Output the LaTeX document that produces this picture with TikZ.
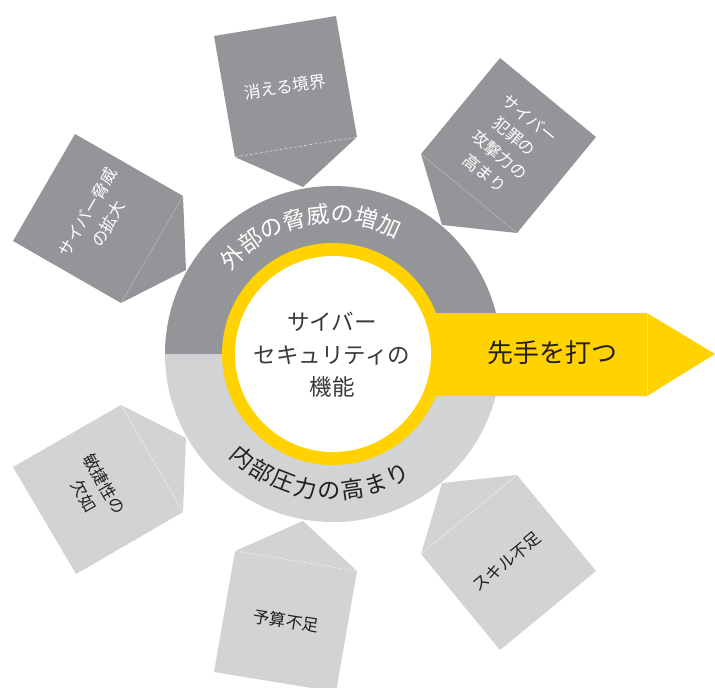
\documentclass[tikz,border=0pt]{standalone}
\usepackage{fontspec}
\setmainfont{Noto Sans CJK JP}
\definecolor{darkg}{HTML}{939598}
\definecolor{lightg}{HTML}{D1D3D4}
\definecolor{ylw}{HTML}{FFD200}
\definecolor{txt}{HTML}{231F20}
\definecolor{ctxt}{HTML}{3A3A3A}
\begin{document}
\begin{tikzpicture}[x=1pt,y=-1pt,
  darkbox/.style={fill=darkg},
  lightbox/.style={fill=lightg},
  foldsolid/.style={draw=#1,line width=0.4pt},
  folddash/.style={draw=#1,line width=0.5pt,dash pattern=on 3pt off 2pt},
  boxtext/.style={font=\fontsize{16.5}{23.5}\selectfont,align=center,inner sep=0pt},
  ringchar/.style={font=\fontsize{23}{23}\selectfont,inner sep=0pt,anchor=center},
  centertext/.style={font=\fontsize{22.5}{32.5}\selectfont,align=center,inner sep=0pt,text=ctxt},
]
\useasboundingbox (0,0) rectangle (715,688);
\coordinate (c) at (333,354);

% ---------- top boxes (dark) ----------
\coordinate (a1) at (75,134);  \coordinate (b1) at (183,196);
\coordinate (c1) at (121,303); \coordinate (d1) at (13,241);
\coordinate (t1) at (186,270);
\fill[darkbox] (a1) -- (b1) -- (t1) -- (c1) -- (d1) -- cycle;
\draw[foldsolid=darkg!60!white] (b1) -- (c1);
\node[boxtext,text=white,rotate=60] (l1) at (98,218) {サイバー脅威\\の拡大};

\coordinate (a2) at (214,36);  \coordinate (b2) at (336,16);
\coordinate (c2) at (357,137); \coordinate (d2) at (235,157);
\coordinate (t2) at (303,187);
\fill[darkbox] (a2) -- (b2) -- (c2) -- (t2) -- (d2) -- cycle;
\draw[folddash=white!75!darkg] (d2) -- (c2);
\node[boxtext,text=white,rotate=9] (l2) at (285,87) {消える境界};

\coordinate (a3) at (500,58);  \coordinate (b3) at (596,137);
\coordinate (c3) at (517,233); \coordinate (d3) at (421,154);
\coordinate (t3) at (442,225);
\fill[darkbox] (a3) -- (b3) -- (c3) -- (t3) -- (d3) -- cycle;
\draw[foldsolid=darkg!60!white] (d3) -- (c3);
\node[boxtext,text=white,rotate=-39.5] (l3) at (507,146) {サイバー\\犯罪の\\攻撃力の\\高まり};

% ---------- bottom boxes (light) ----------
\coordinate (a4) at (76,574);  \coordinate (b4) at (183,512);
\coordinate (c4) at (121,405); \coordinate (d4) at (13,467);
\coordinate (t4) at (186,438);
\fill[lightbox] (a4) -- (b4) -- (t4) -- (c4) -- (d4) -- cycle;
\draw[foldsolid=white!70!lightg] (b4) -- (c4);
\node[boxtext,text=txt,rotate=-60] (l4) at (94,490) {敏捷性の\\欠如};

\coordinate (a5) at (214,672);  \coordinate (b5) at (336,692);
\coordinate (c5) at (357,571); \coordinate (d5) at (235,551);
\coordinate (t5) at (303,521);
\fill[lightbox] (a5) -- (b5) -- (c5) -- (t5) -- (d5) -- cycle;
\draw[folddash=white!80!lightg] (d5) -- (c5);
\node[boxtext,text=txt,rotate=-9] (l5) at (286,621) {予算不足};

\coordinate (a6) at (500,650);  \coordinate (b6) at (596,571);
\coordinate (c6) at (517,475); \coordinate (d6) at (421,554);
\coordinate (t6) at (442,483);
\fill[lightbox] (a6) -- (b6) -- (c6) -- (t6) -- (d6) -- cycle;
\draw[foldsolid=white!70!lightg] (d6) -- (c6);
\node[boxtext,text=txt,rotate=39.5] (l6) at (507,562) {スキル不足};

% ---------- ring ----------
\begin{scope}
  \clip (160,180) rectangle (510,354);
  \fill[darkg] (c) circle[radius=168pt];
\end{scope}
\begin{scope}
  \clip (160,354) rectangle (510,530);
  \fill[lightg] (c) circle[radius=168pt];
\end{scope}

% ---------- arrow ----------
\coordinate (r1) at (333,313); \coordinate (r2) at (647,313);
\coordinate (tip) at (715,354);
\coordinate (r3) at (647,396); \coordinate (r4) at (333,396);
\fill[ylw] (r1) -- (r2) -- (tip) -- (r3) -- (r4) -- cycle;
\draw[draw=ylw!60!white,line width=0.4pt] (r2) -- (r3);

% ---------- core ----------
\fill[ylw] (c) circle[radius=111pt];
\fill[white] (c) circle[radius=98pt];
\node[centertext] (core) at (332,355) {サイバー\\セキュリティの\\機能};
\node[font=\fontsize{26}{26}\selectfont,text=txt,inner sep=0pt] (act) at (552,353) {先手を打つ};

% ---------- ring texts ----------
\foreach \ch [count=\i from 0] in {外,部,の,脅,威,の,増,加} {
  \pgfmathsetmacro\ang{136-10*\i}
  \pgfmathsetmacro\rot{\ang-90}
  \node[ringchar,text=white,rotate=\rot] (top\i) at ({333+140*cos(\ang)},{354-140*sin(\ang)}) {\ch};
}
\foreach \ch [count=\i from 0] in {内,部,圧,力,の,高,ま,り} {
  \pgfmathsetmacro\ang{229+9.85*\i}
  \pgfmathsetmacro\rot{\ang+90}
  \node[ringchar,text=txt,rotate=\rot] (bot\i) at ({333+137*cos(\ang)},{354-137*sin(\ang)}) {\ch};
}
\end{tikzpicture}
\end{document}
